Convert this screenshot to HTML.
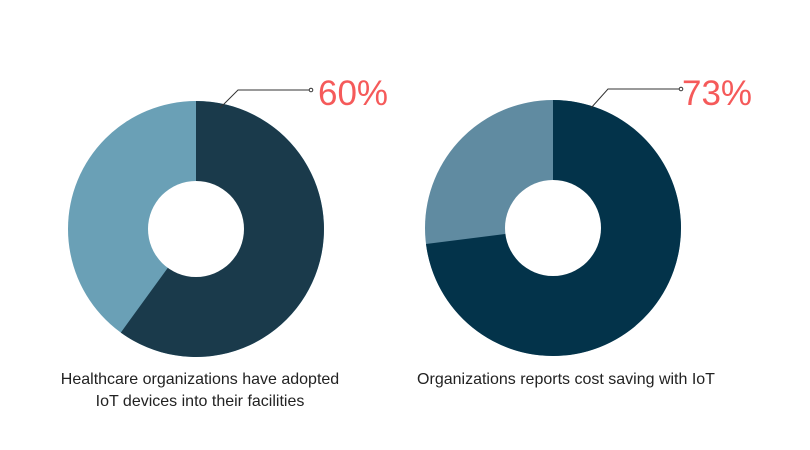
<!DOCTYPE html>
<html><head><style>
body{margin:0;background:#fff;}
svg{display:block;}
text{font-family:"Liberation Sans",sans-serif;}
</style></head><body>
<svg width="810" height="450" viewBox="0 0 810 450">
<circle cx="196" cy="229" r="128" fill="#6aa0b6"/>
<path d="M196 229 L196 101 A128 128 0 1 1 120.8 332.6 Z" fill="#1a3a4b"/>
<circle cx="196" cy="229" r="48" fill="#fff"/>
<circle cx="553" cy="228" r="128" fill="#608ba1"/>
<path d="M553 228 L553 100 A128 128 0 1 1 426 244 Z" fill="#03334a"/>
<circle cx="553" cy="228" r="48" fill="#fff"/>
<polyline points="220,108 238,90 310,90" fill="none" stroke="#333" stroke-width="1"/>
<circle cx="311" cy="90" r="1.8" fill="#fff" stroke="#333" stroke-width="1"/>
<polyline points="591,108 608,89 680,89" fill="none" stroke="#333" stroke-width="1"/>
<circle cx="681" cy="89" r="1.8" fill="#fff" stroke="#333" stroke-width="1"/>
<text x="318" y="105" font-size="35" fill="#f55a5a">60%</text>
<text x="682" y="105" font-size="35" fill="#f55a5a">73%</text>
<text x="200" y="384" font-size="16" fill="#222" text-anchor="middle">Healthcare organizations have adopted</text>
<text x="200" y="406" font-size="16" fill="#222" text-anchor="middle">IoT devices into their facilities</text>
<text x="566" y="384" font-size="16" fill="#222" text-anchor="middle">Organizations reports cost saving with IoT</text>
</svg>
</body></html>
